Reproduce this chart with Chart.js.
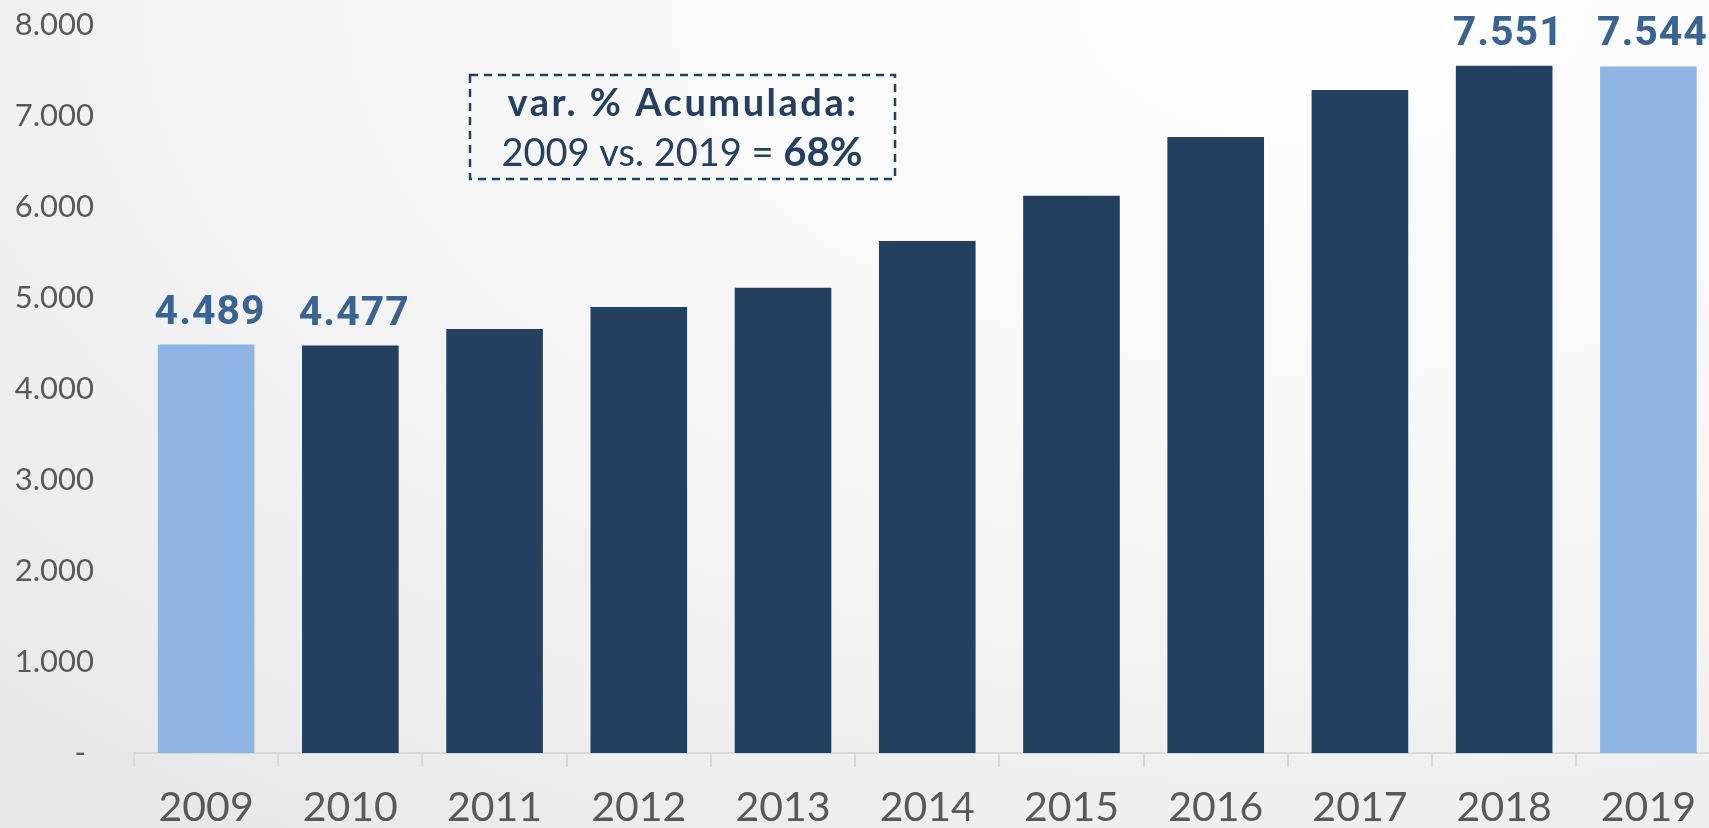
<!DOCTYPE html>
<html>
<head>
<meta charset="utf-8">
<script src="https://cdn.jsdelivr.net/npm/chart.js@4.4.1/dist/chart.umd.min.js"></script>
<style>
    html, body {
        margin: 0;
        padding: 0;
        width: 1709px;
        height: 828px;
        overflow: hidden;
        background: radial-gradient(ellipse 120% 140% at 78% 0%, #fefefe 0%, #f7f7f7 40%, #efefef 70%, #e4e4e4 100%);
    }
    #wrap {
        width: 1722px;
        height: 828px;
        position: relative;
    }
</style>
</head>
<body>
<div id="wrap"><canvas id="grafico"></canvas></div>
<script>
// Datos
var anios = ['2009', '2010', '2011', '2012', '2013', '2014', '2015', '2016', '2017', '2018', '2019'];
var valores = [4489, 4477, 4658, 4900, 5112, 5626, 6124, 6770, 7287, 7551, 7544];
var resaltados = [0, 10];          // barras claras
var conEtiqueta = [0, 1, 9, 10];   // barras con valor
var etiquetasY = ['- ', '1.000', '2.000', '3.000', '4.000', '5.000', '6.000', '7.000', '8.000'];
var textoCaja = ['var. % Acumulada:', '2009 vs. 2019 = ', '68%'];

var azulOscuro = '#243F60';
var azulClaro = '#8EB4E3';
var azulTexto = '#386393';

function formato(n) {
    return String(n).replace(/\B(?=(\d{3})+(?!\d))/g, '.');
}

var colores = valores.map(function (v, i) {
    return resaltados.indexOf(i) >= 0 ? azulClaro : azulOscuro;
});

// etiquetas sobre las barras
var pluginEtiquetas = {
    id: 'etiquetas',
    afterDatasetsDraw: function (chart) {
        var ctx = chart.ctx;
        var meta = chart.getDatasetMeta(0);
        ctx.save();
        ctx.fillStyle = azulTexto;
        ctx.font = 'bold 41px Roboto';
        ctx.letterSpacing = '1px';
        ctx.textAlign = 'center';
        ctx.textBaseline = 'alphabetic';
        conEtiqueta.forEach(function (i) {
            var bar = meta.data[i];
            ctx.fillText(formato(valores[i]), bar.x + 4, bar.y - 21);
        });
        ctx.restore();
    }
};

// caja de variacion acumulada
var pluginCaja = {
    id: 'caja',
    afterDraw: function (chart) {
        var ctx = chart.ctx;
        ctx.save();
        ctx.strokeStyle = azulOscuro;
        ctx.lineWidth = 2.5;
        ctx.setLineDash([8, 6]);
        ctx.strokeRect(470, 75, 425, 104);
        ctx.setLineDash([]);

        ctx.fillStyle = azulOscuro;
        ctx.textBaseline = 'alphabetic';
        ctx.textAlign = 'center';
        ctx.font = 'bold 38px Lato';
        ctx.letterSpacing = '2.5px';
        ctx.fillText(textoCaja[0], 683, 116);
        ctx.letterSpacing = '0px';

        ctx.textAlign = 'left';
        ctx.font = '38px Lato';
        var w1 = ctx.measureText(textoCaja[1]).width;
        ctx.font = 'bold 40px Lato';
        var w2 = ctx.measureText(textoCaja[2]).width;
        var x0 = 682 - (w1 + w2) / 2;
        ctx.font = '38px Lato';
        ctx.fillText(textoCaja[1], x0, 166);
        ctx.font = 'bold 40px Lato';
        ctx.fillText(textoCaja[2], x0 + w1, 166);
        ctx.restore();
    }
};

var ctx = document.getElementById('grafico').getContext('2d');
var grafico = new Chart(ctx, {
    type: 'bar',
    data: {
        labels: anios,
        datasets: [{
            data: valores,
            backgroundColor: colores,
            borderWidth: 0,
            categoryPercentage: 1,
            barPercentage: 0.67
        }]
    },
    options: {
        responsive: true,
        maintainAspectRatio: false,
        animation: false,
        layout: {
            padding: { top: 25, right: 1.5, left: 0, bottom: 0 }
        },
        plugins: {
            legend: { display: false },
            tooltip: { enabled: false }
        },
        scales: {
            x: {
                grid: {
                    drawOnChartArea: false,
                    drawTicks: true,
                    tickLength: 14,
                    color: '#d9d9d9',
                    lineWidth: 2
                },
                border: { display: true, color: '#d9d9d9', width: 2 },
                ticks: {
                    color: '#595959',
                    font: { family: 'Lato', size: 41 },
                    padding: 16,
                    maxRotation: 0,
                    autoSkip: false
                },
                afterFit: function (scale) {
                    scale.height = 75;
                }
            },
            y: {
                min: 0,
                max: 8000,
                grid: { display: false, drawTicks: false },
                border: { display: false },
                ticks: {
                    stepSize: 1000,
                    color: '#595959',
                    font: { family: 'Lato', size: 31 },
                    padding: 40,
                    callback: function (v, i) {
                        return etiquetasY[i];
                    }
                },
                afterFit: function (scale) {
                    scale.width = 134;
                    // el padding de las etiquetas empujaba el area hacia abajo
                    scale.paddingTop = 0;
                    scale.paddingBottom = 0;
                }
            }
        }
    },
    plugins: [pluginEtiquetas, pluginCaja]
});
</script>
</body>
</html>
